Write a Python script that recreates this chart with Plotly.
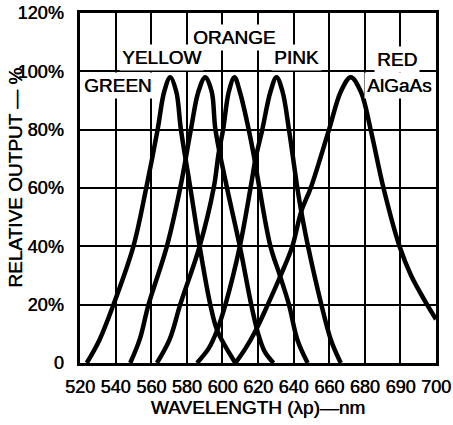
import plotly.graph_objects as go

# Relative spectral output of five LED colours (wavelength in nm, output in %)
green_nm = [523.8, 531.0, 538.8, 550.0, 557.2, 563.6, 567.3, 570.7, 574.1, 576.7, 582.0, 587.2, 593.2, 597.2, 607.3]
green_pct = [0, 8, 20, 40, 60, 80, 93, 98, 93, 80, 60, 40, 20, 11, 0]

yellow_nm = [548.2, 553.5, 558.5, 568.8, 576.3, 582.3, 586.5, 590.4, 594.0, 596.1, 602.6, 609.8, 616.2, 620.1, 623.7, 628.7]
yellow_pct = [0, 8, 20, 40, 60, 80, 93, 98, 93, 80, 60, 40, 20, 10, 4, 0]

orange_nm = [563.2, 570.3, 576.3, 587.2, 595.1, 597.9, 600.4, 603.6, 606.8, 609.8, 614.8, 618.0, 620.8, 627.0, 632.3, 637.4, 642.1, 647.9]
orange_pct = [0, 8, 20, 40, 60, 72, 80, 93, 98, 93, 80, 70, 60, 40, 30, 20, 8, 0]

pink_nm = [585.7, 592.3, 597.2, 601.7, 609.8, 615.8, 618.6, 622.4, 627.0, 630.4, 633.8, 637.4, 642.1, 644.3, 648.1, 655.6, 660.9, 666.5]
pink_pct = [0, 5, 11.5, 20, 40, 60, 70, 80, 93, 98, 93, 80, 60, 52, 40, 20, 8, 0]

red_nm = [607.3, 613.0, 619.0, 625.5, 632.7, 639.3, 644.3, 649.6, 659.9, 666.5, 672.1, 677.8, 683.3, 690.5, 699.5, 706.0, 715.0, 720.0]
red_pct = [0, 5, 11.5, 20, 30, 40, 52, 60, 80, 93, 98, 93, 80, 60, 40, 30, 20, 15]

# Axis ticks (the printed scale ends 680, 690, 700)
x_tickvals = [520, 540, 560, 580, 600, 620, 640, 660, 680, 700, 720]
x_ticktext = ["520", "540", "560", "580", "600", "620", "640", "660", "680", "690", "700"]
y_tickvals = [0, 20, 40, 60, 80, 100, 120]
y_ticktext = ["0", "20%", "40%", "60%", "80%", "100%", "120%"]

series = [
    (green_nm, green_pct),
    (yellow_nm, yellow_pct),
    (orange_nm, orange_pct),
    (pink_nm, pink_pct),
    (red_nm, red_pct),
]

FONT = "Liberation Sans, Arial, Helvetica, sans-serif"
FS = 19
HEAVY = "0.5px 0 0 #000"  # slight thickening of the printed lettering


def font(size):
    return dict(family=FONT, size=size, color="black", shadow=HEAVY)


fig = go.Figure()
for xs, ys in series:
    fig.add_trace(go.Scatter(
        x=xs, y=ys, mode="lines",
        line=dict(color="black", width=4.5, shape="spline", smoothing=1.0),
        hoverinfo="skip",
    ))

# Colour names written on the chart
labels = [
    ("YELLOW", 566.0, 104.6),
    ("ORANGE", 606.5, 111.7),
    ("PINK", 641.9, 104.6),
    ("RED", 698.1, 104.0),
    ("GREEN", 541.3, 95.3),
    ("AlGaAs", 699.2, 95.3),
]
for text, lx, ly in labels:
    fig.add_annotation(
        x=lx, y=ly, xref="x", yref="y", text=text, showarrow=False,
        font=font(FS), bgcolor="white", borderpad=2,
    )

# Vertical axis caption
fig.add_annotation(
    x=-0.182, y=0.53, xref="paper", yref="paper",
    xanchor="center", yanchor="middle",
    text="RELATIVE OUTPUT — %", textangle=-90, showarrow=False,
    font=font(FS),
)

axis_common = dict(
    showgrid=True, gridcolor="black", gridwidth=1.8,
    showline=True, mirror=True, linecolor="black", linewidth=2.5,
    zeroline=False, ticks="", automargin=False,
    tickfont=font(FS - 1),
)

fig.update_layout(
    width=453, height=425,
    margin=dict(l=80, r=17, t=13, b=62),
    paper_bgcolor="white", plot_bgcolor="white",
    showlegend=False,
    font=dict(family=FONT, color="black"),
    xaxis=dict(
        range=[520, 720], tickvals=x_tickvals, ticktext=x_ticktext,
        ticklabelstandoff=6,
        title=dict(text="WAVELENGTH (λp)—nm", font=font(FS), standoff=5),
        **axis_common,
    ),
    yaxis=dict(
        range=[0, 120], tickvals=y_tickvals, ticktext=y_ticktext,
        ticklabelstandoff=10,
        **axis_common,
    ),
)

fig.write_html("out.html")
